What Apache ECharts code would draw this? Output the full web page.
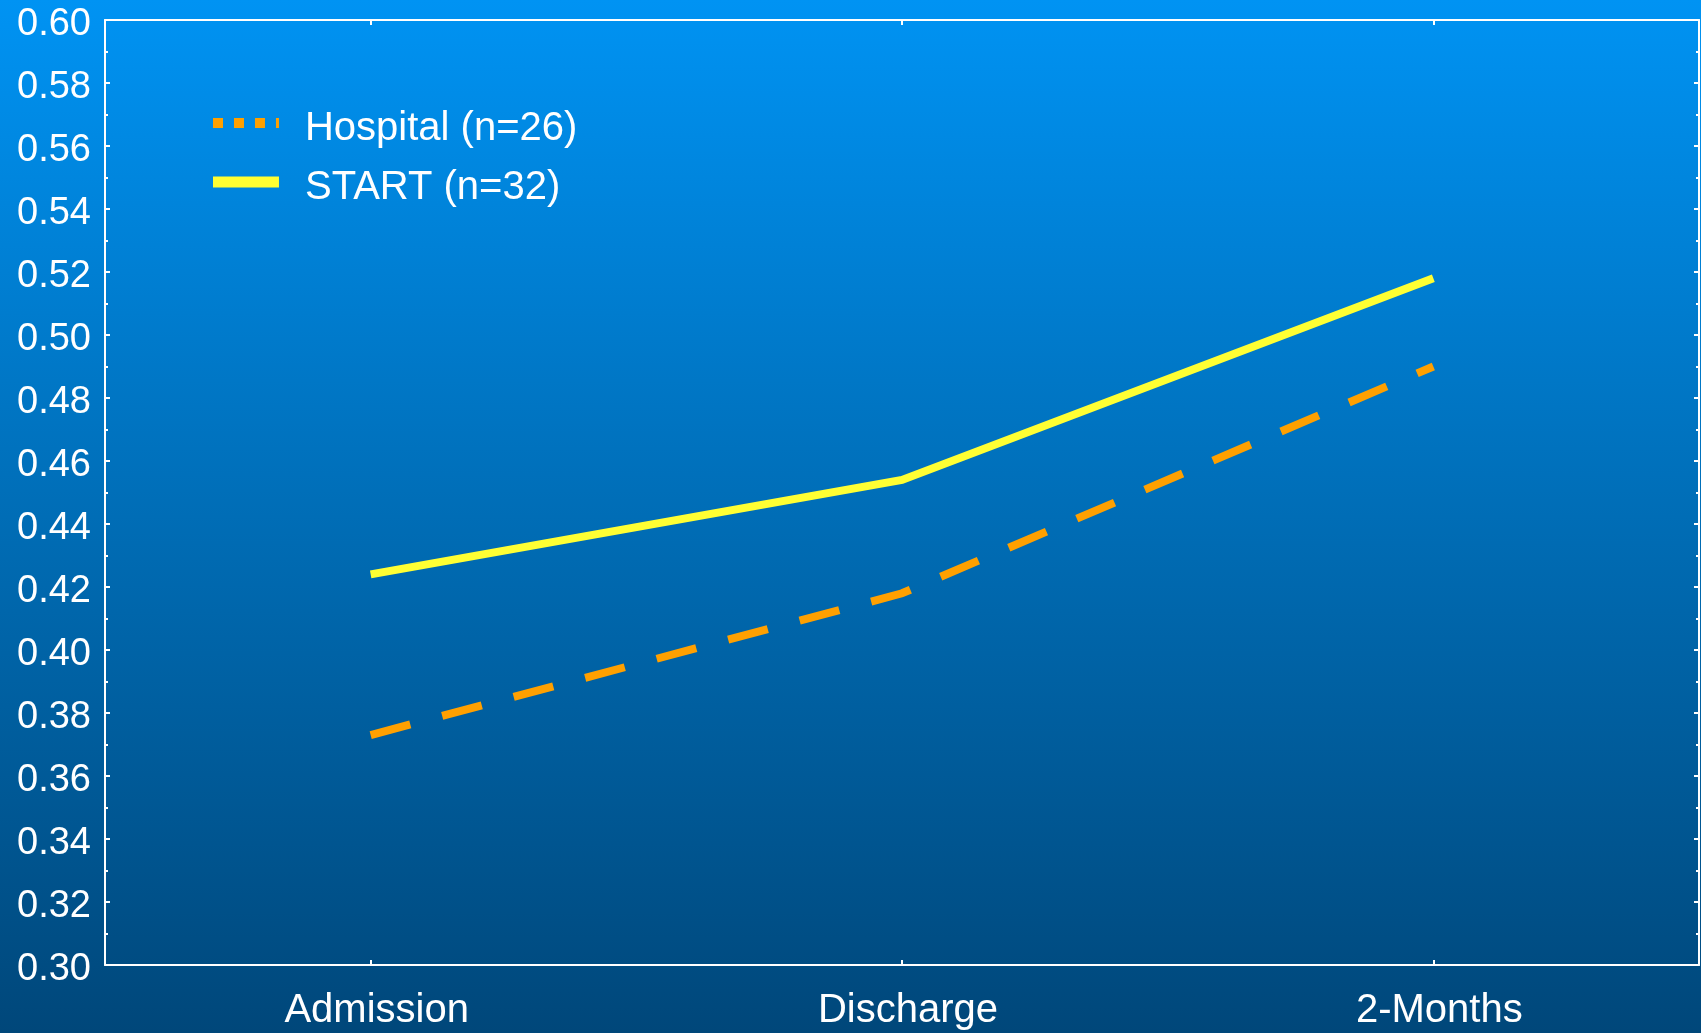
<!DOCTYPE html>
<html>
<head>
<meta charset="utf-8">
<script src="https://cdn.jsdelivr.net/npm/echarts@6/dist/echarts.min.js"></script>
<style>
  html, body { margin: 0; padding: 0; width: 100%; height: 100%; overflow: hidden; }
  #chart { width: 1701px; height: 1033px; }
</style>
</head>
<body>
<div id="chart"></div>
<script>
// Time points on the x axis
const categories = ['Admission', 'Discharge', '2-Months'];
// Mean scores per group
const hospitalName = 'Hospital (n=26)';
const hospitalValues = [0.373, 0.418, 0.490];
const startName = 'START (n=32)';
const startValues = [0.424, 0.454, 0.518];
// Value axis range and step of the tick labels
const yMin = 0.30;
const yMax = 0.60;
const yStep = 0.02;

const FONT = '"Liberation Sans", Arial, Helvetica, sans-serif';
const WHITE = '#ffffff';
const ORANGE = '#FFA000';
const YELLOW = '#FFFF33';

// Legend swatches: the drawn part sits in the upper half of a 22px tall box,
// a tiny point at the bottom keeps the box height so the label sits a bit lower.
const DOTTED_ICON = 'path://M0,0h10v10h-10z M21,0h10v10h-10z M42,0h10v10h-10z M63,0h3v10h-3z M0,22h0.01v0.01h-0.01z';
const SOLID_ICON = 'path://M0,0h66v11h-66z M0,22h0.01v0.01h-0.01z';

const chart = echarts.init(document.getElementById('chart'), null, { renderer: 'canvas' });

const frameLine = { show: true, onZero: false, lineStyle: { color: WHITE, width: 2 } };

function valueAxis(position, showLabels) {
  return {
    type: 'value',
    position: position,
    min: yMin,
    max: yMax,
    interval: yStep,
    axisLine: frameLine,
    axisTick: { show: true, inside: true, length: 5, lineStyle: { color: WHITE, width: 2 } },
    minorTick: { show: true, splitNumber: 2, length: 3, lineStyle: { color: WHITE, width: 2 } },
    splitLine: { show: false },
    minorSplitLine: { show: false },
    axisLabel: {
      show: showLabels,
      color: WHITE,
      fontFamily: FONT,
      fontSize: 38,
      margin: 14,
      verticalAlign: 'top',
      lineHeight: 10,
      formatter: v => v.toFixed(2)
    }
  };
}

function categoryAxis(position, showLabels) {
  return {
    type: 'category',
    position: position,
    data: categories,
    boundaryGap: true,
    axisLine: frameLine,
    axisTick: { show: true, inside: true, alignWithLabel: true, length: 5, lineStyle: { color: WHITE, width: 2 } },
    splitLine: { show: false },
    axisLabel: {
      show: showLabels,
      color: WHITE,
      fontFamily: FONT,
      fontSize: 40,
      margin: 26,
      padding: [0, 0, 0, 12]
    }
  };
}

const option = {
  animation: false,
  backgroundColor: {
    type: 'linear', x: 0, y: 0, x2: 0, y2: 1,
    colorStops: [
      { offset: 0, color: '#0093F3' },
      { offset: 0.5, color: '#006DB6' },
      { offset: 1, color: '#00477A' }
    ]
  },
  grid: { left: 105, right: 2, top: 20, bottom: 68, containLabel: false },
  xAxis: [categoryAxis('bottom', true), categoryAxis('top', false)],
  yAxis: [valueAxis('left', true), valueAxis('right', false)],
  legend: {
    orient: 'vertical',
    left: 213,
    top: 109,
    padding: 0,
    itemGap: 18.5,
    itemWidth: 66,
    itemHeight: 22,
    textStyle: { color: WHITE, fontFamily: FONT, fontSize: 40, padding: [0, 0, 0, 21] },
    data: [
      { name: hospitalName, icon: DOTTED_ICON },
      { name: startName, icon: SOLID_ICON }
    ]
  },
  series: [
    {
      name: hospitalName,
      type: 'line',
      xAxisIndex: 0,
      yAxisIndex: 0,
      data: hospitalValues,
      symbol: 'none',
      color: ORANGE,
      lineStyle: { color: ORANGE, width: 8, type: [41, 33], cap: 'butt', join: 'miter' }
    },
    {
      name: startName,
      type: 'line',
      xAxisIndex: 0,
      yAxisIndex: 0,
      data: startValues,
      symbol: 'none',
      color: YELLOW,
      lineStyle: { color: YELLOW, width: 8, cap: 'butt', join: 'miter' }
    }
  ]
};

chart.setOption(option);
</script>
</body>
</html>
